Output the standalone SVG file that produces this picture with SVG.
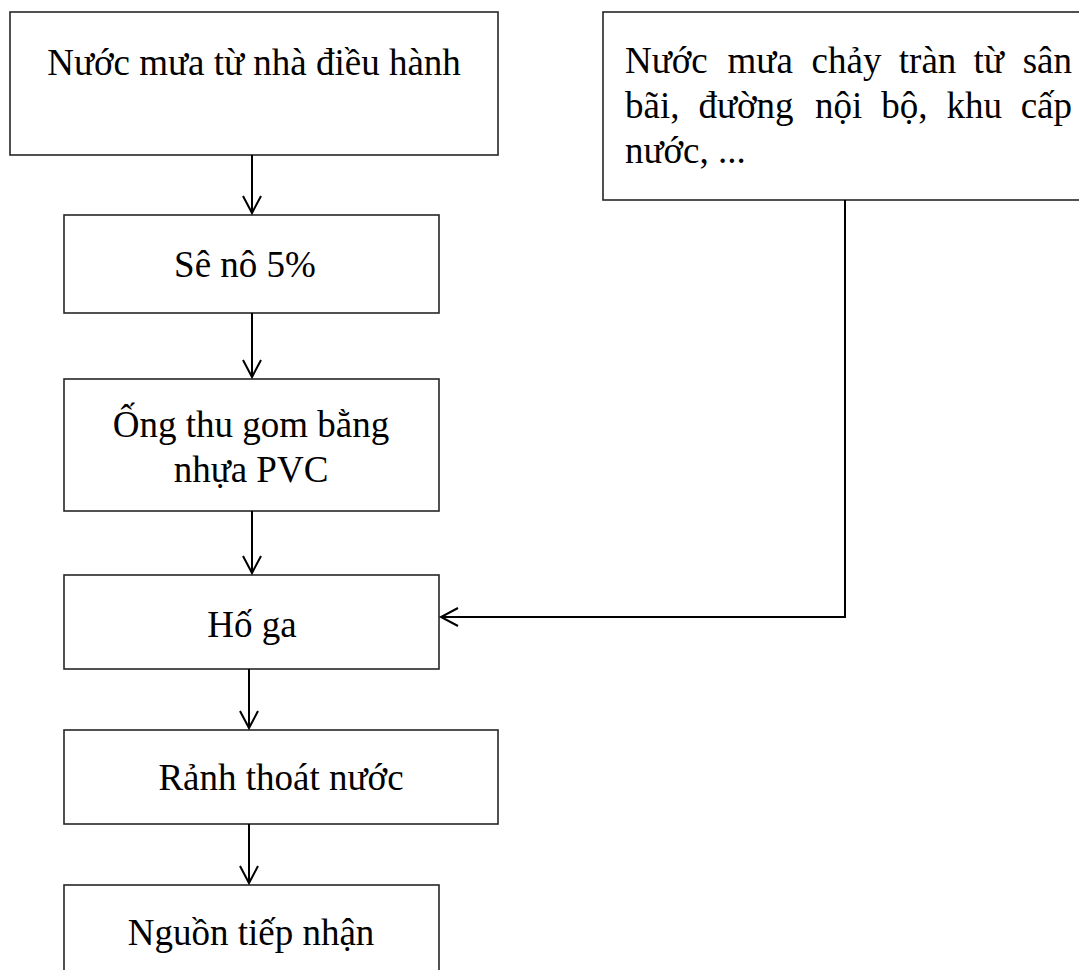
<svg xmlns="http://www.w3.org/2000/svg" width="1079" height="970" viewBox="0 0 1079 970">
<style>
.box{fill:#fff;stroke:#262626;stroke-width:1.6}
.t{font-family:"Liberation Serif","Times New Roman",serif;font-size:37px;fill:#000}
.m{text-anchor:middle}
.e{text-anchor:end}
.c{fill:none;stroke:#000;stroke-width:2}
</style>
<defs>
<marker id="ah" markerUnits="userSpaceOnUse" orient="auto" refX="0" refY="0" markerWidth="20" markerHeight="20" overflow="visible">
<path d="M-17,-9 L0,0 L-17,9" fill="none" stroke="#000" stroke-width="2"/>
</marker>
</defs>
<rect width="1079" height="970" fill="#fff"/>
<g id="n1"><rect class="box" x="10" y="12" width="488" height="143"/><text class="t m" x="254" y="75">Nước mưa từ nhà điều hành</text></g>
<g id="n2"><rect class="box" x="603" y="12" width="500" height="188"/>
<text class="t" y="73"><tspan x="625">Nước</tspan><tspan x="727.6">mưa</tspan><tspan x="811.6">chảy</tspan><tspan x="898.8">tràn</tspan><tspan x="973.6">từ</tspan></text><text class="t e" x="1072" y="73">sân</text>
<text class="t" y="118"><tspan x="625">bãi,</tspan><tspan x="698.4">đường</tspan><tspan x="815">nội</tspan><tspan x="881.2">bộ,</tspan><tspan x="946.4">khu</tspan></text><text class="t e" x="1072" y="118">cấp</text>
<text class="t" x="625" y="163">nước, ...</text></g>
<g id="n3"><rect class="box" x="64" y="215" width="375" height="98"/><text class="t m" x="245" y="277">Sê nô 5%</text></g>
<g id="n4"><rect class="box" x="64" y="379" width="375" height="132"/><text class="t m" x="251" y="437">Ống thu gom bằng</text><text class="t m" x="251" y="482">nhựa PVC</text></g>
<g id="n5"><rect class="box" x="64" y="575" width="375" height="94"/><text class="t m" x="252" y="637">Hố ga</text></g>
<g id="n6"><rect class="box" x="64" y="730" width="434" height="94"/><text class="t m" x="281" y="790">Rảnh thoát nước</text></g>
<g id="n7"><rect class="box" x="64" y="885" width="375" height="110"/><text class="t m" x="251" y="945">Nguồn tiếp nhận</text></g>
<g id="connectors">
<path class="c" d="M252,155 V213" marker-end="url(#ah)"/>
<path class="c" d="M252,313 V377" marker-end="url(#ah)"/>
<path class="c" d="M252,511 V573" marker-end="url(#ah)"/>
<path class="c" d="M249,669 V728" marker-end="url(#ah)"/>
<path class="c" d="M249,824 V883" marker-end="url(#ah)"/>
<path class="c" d="M845,200 V617 H441" marker-end="url(#ah)"/>
</g>
</svg>
